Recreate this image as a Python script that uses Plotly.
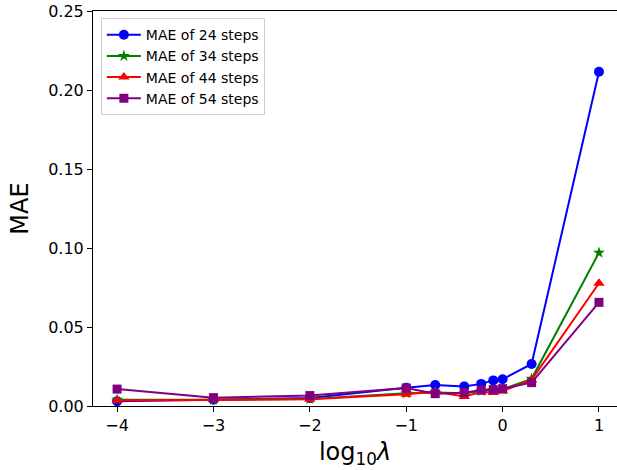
import plotly.graph_objects as go

# log10 of the regularisation weight lambda
log_lambda = [-4, -3, -2, -1, -0.699, -0.398, -0.222, -0.097, 0, 0.301, 1]

mae_24 = [0.0030, 0.0040, 0.0050, 0.0116, 0.0133, 0.0124, 0.0140, 0.0162, 0.0169, 0.0266, 0.2115]
mae_34 = [0.0040, 0.0040, 0.0045, 0.0080, 0.0085, 0.0080, 0.0095, 0.0100, 0.0105, 0.0172, 0.0970]
mae_44 = [0.0035, 0.0040, 0.0042, 0.0075, 0.0090, 0.0060, 0.0088, 0.0085, 0.0095, 0.0165, 0.0777]
mae_54 = [0.0107, 0.0053, 0.0066, 0.0114, 0.0078, 0.0084, 0.0101, 0.0104, 0.0110, 0.0148, 0.0656]

series = [
    ("MAE of 24 steps", mae_24, "blue", "circle", 10),
    ("MAE of 34 steps", mae_34, "green", "star", 9),
    ("MAE of 44 steps", mae_44, "red", "triangle-up", 10),
    ("MAE of 54 steps", mae_54, "purple", "square", 9),
]

x_ticks = [-4, -3, -2, -1, 0, 1]
y_ticks = [0.00, 0.05, 0.10, 0.15, 0.20, 0.25]

fig = go.Figure()
for name, vals, color, symbol, size in series:
    fig.add_trace(go.Scatter(
        x=log_lambda, y=vals, name=name, mode="lines+markers",
        line=dict(color=color, width=2),
        marker=dict(color=color, symbol=symbol, size=size, line=dict(width=0)),
    ))

font = "DejaVu Sans"
fig.update_layout(
    width=617, height=470,
    margin=dict(l=93, r=0, t=11, b=64),
    plot_bgcolor="white", paper_bgcolor="white",
    font=dict(family=font, color="black"),
    showlegend=True,
    legend=dict(
        x=0.015, y=0.982, xanchor="left", yanchor="top",
        bgcolor="rgba(255,255,255,0.8)", bordercolor="#cccccc", borderwidth=1,
        font=dict(family=font, size=14, color="black"),
        itemwidth=34,
    ),
    xaxis=dict(
        range=[-4.25, 1.187], tickvals=x_ticks, ticks="outside", ticklen=5,
        tickwidth=1, tickcolor="black", showgrid=False, zeroline=False,
        showline=True, linecolor="black", linewidth=1, mirror=True,
        tickfont=dict(size=16, family=font),
        title=dict(text="log<sub>10</sub><i>λ</i>", font=dict(size=24, family=font), standoff=8),
    ),
    yaxis=dict(
        range=[0, 0.25], tickvals=y_ticks, tickformat=".2f", ticks="outside",
        ticklen=5, tickwidth=1, tickcolor="black", showgrid=False,
        zeroline=False, showline=True, linecolor="black", linewidth=1,
        tickfont=dict(size=16, family=font),
        title=dict(text="MAE", font=dict(size=24, family=font), standoff=12),
    ),
)

fig.write_html("out.html")
